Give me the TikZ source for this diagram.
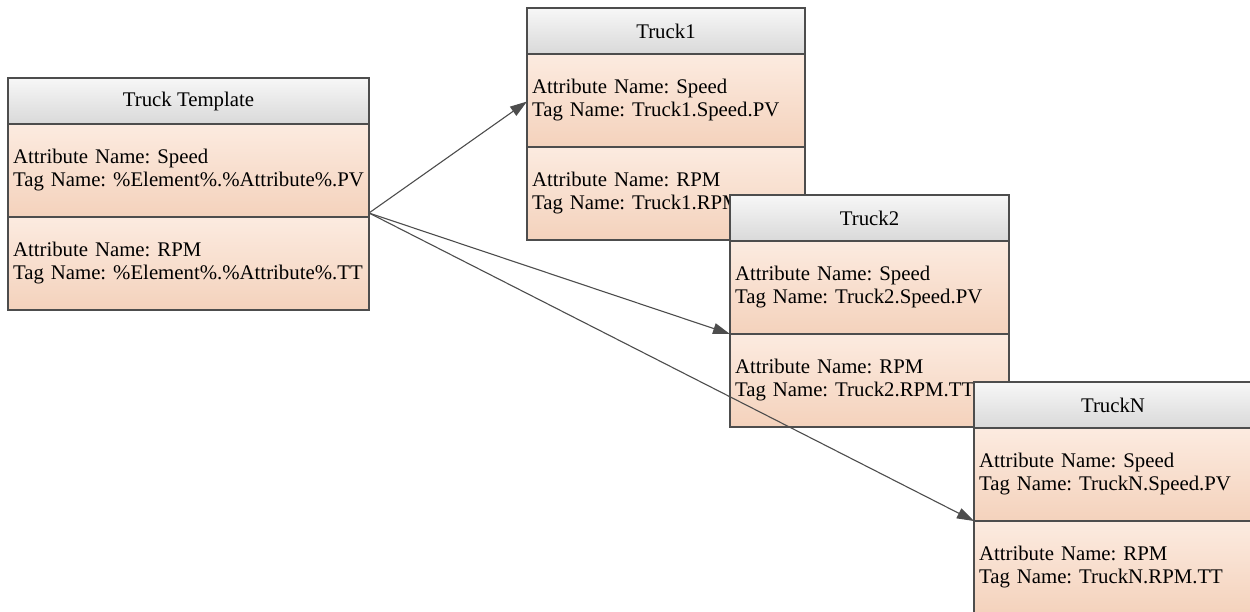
\documentclass[tikz,border=0pt]{standalone}
\usepackage{fontspec}
\setmainfont{Liberation Serif}
\usetikzlibrary{positioning,arrows.meta}
\definecolor{headtop}{HTML}{F7F7F7}
\definecolor{headbot}{HTML}{D9D9D9}
\definecolor{parttop}{HTML}{FCEBE0}
\definecolor{partbot}{HTML}{F4D2BC}
\definecolor{edge}{HTML}{4D4D4D}
\frenchspacing
\begin{document}
\begin{tikzpicture}[x=1pt,y=-1pt,
  every node/.style={font=\fontsize{20.8}{23}\selectfont\frenchspacing},
  head/.style={draw=edge,line width=1.2pt,top color=headtop,bottom color=headbot,minimum height=46pt,inner sep=0pt,outer sep=0pt},
  part/.style={draw=edge,line width=1.2pt,top color=parttop,bottom color=partbot,minimum height=93pt,align=left,inner xsep=5pt,inner ysep=0pt,outer sep=0pt},
  link/.style={draw=edge,line width=1.1pt,-{Triangle[length=17pt,width=11pt]}}]
  \useasboundingbox (0,0) rectangle (1250,611);
  % template
  \node[head,minimum width=361pt,anchor=north west] (tt-head) at (8,78) {Truck Template};
  \node[part,text width=351pt,below=0pt of tt-head] (tt-speed) {Attribute Name: Speed\\Tag Name: \%Element\%.\%Attribute\%.PV};
  \node[part,text width=351pt,below=0pt of tt-speed] (tt-rpm) {Attribute Name: RPM\\Tag Name: \%Element\%.\%Attribute\%.TT};
  % truck 1
  \node[head,minimum width=278pt,anchor=north west] (t1-head) at (527,8) {Truck1};
  \node[part,text width=268pt,below=0pt of t1-head] (t1-speed) {Attribute Name: Speed\\Tag Name: Truck1.Speed.PV};
  \node[part,text width=268pt,below=0pt of t1-speed] (t1-rpm) {Attribute Name: RPM\\Tag Name: Truck1.RPM.TT};
  % truck 2
  \node[head,minimum width=279pt,anchor=north west] (t2-head) at (730,195) {Truck2};
  \node[part,text width=269pt,below=0pt of t2-head] (t2-speed) {Attribute Name: Speed\\Tag Name: Truck2.Speed.PV};
  \node[part,text width=269pt,below=0pt of t2-speed] (t2-rpm) {Attribute Name: RPM\\Tag Name: Truck2.RPM.TT};
  % truck N
  \node[head,minimum width=278pt,anchor=north west] (tn-head) at (974,382) {TruckN};
  \node[part,text width=268pt,below=0pt of tn-head] (tn-speed) {Attribute Name: Speed\\Tag Name: TruckN.Speed.PV};
  \node[part,text width=268pt,below=0pt of tn-speed] (tn-rpm) {Attribute Name: RPM\\Tag Name: TruckN.RPM.TT};
  % arrows
  \coordinate (src) at ([yshift=4pt]tt-speed.south east);
  \draw[link] (src) -- ([yshift=-1pt]t1-speed.west);
  \draw[link] (src) -- (t2-speed.south west);
  \draw[link] (src) -- (tn-speed.south west);
\end{tikzpicture}
\end{document}
